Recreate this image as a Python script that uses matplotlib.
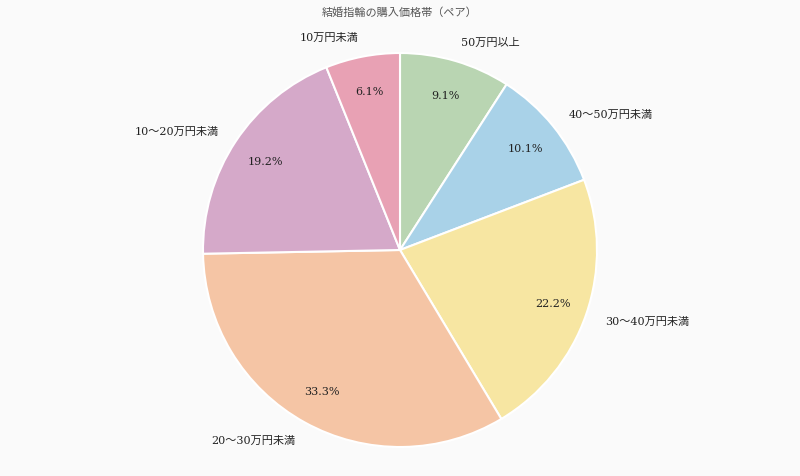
import matplotlib
matplotlib.use("Agg")
import matplotlib.pyplot as plt

plt.rcParams['font.family'] = ['DejaVu Serif', 'Noto Sans CJK JP', 'DejaVu Sans']

title = "結婚指輪の購入価格帯（ペア）"
categories = ["50万円以上", "40～50万円未満", "30～40万円未満", "20～30万円未満", "10～20万円未満", "10万円未満"]
values = [9.1, 10.1, 22.2, 33.3, 19.2, 6.1]
colors = ["#b9d5b2", "#a9d2e8", "#f7e6a2", "#f5c5a5", "#d5a9c9", "#e8a1b4"]

fig = plt.figure(figsize=(8.0, 4.77), dpi=100, facecolor="#fafafa")
ax = fig.add_axes([0, 0, 1, 1])
ax.set_facecolor("#fafafa")

wedges, texts, autotexts = ax.pie(
    values, labels=categories, colors=colors, startangle=90, counterclock=False,
    autopct=lambda p: f"{p:.1f}%", pctdistance=0.82, labeldistance=1.10,
    wedgeprops=dict(edgecolor="white", linewidth=1.5),
    textprops=dict(fontsize=8, color="#222222"),
    radius=1.0, center=(0, 0),
)
ax.set_aspect("equal")
# center at (400,251) px, radius ~197 px
r_px = 197.0
cx, cy = 400.0, 477 - 251.0
W, H = 800.0, 477.0
ax.set_xlim(-cx / r_px, (W - cx) / r_px)
ax.set_ylim(-cy / r_px, (H - cy) / r_px)
ax.axis("off")

fig.text(0.5, 1 - 13 / 477, title, ha="center", va="center", fontsize=8, color="#555555")

fig.savefig("out.png", dpi=100, facecolor=fig.get_facecolor())
